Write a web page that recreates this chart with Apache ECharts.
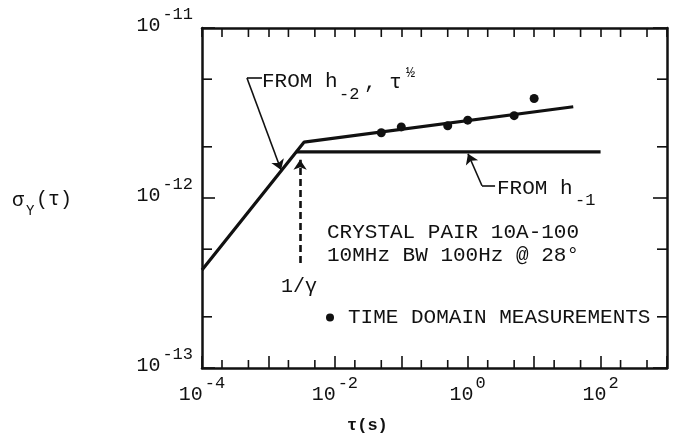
<!DOCTYPE html>
<html><head><meta charset="utf-8">
<script src="https://cdn.jsdelivr.net/npm/echarts@6/dist/echarts.min.js"></script>
<style>html,body{margin:0;padding:0;background:#fff}#c{width:677px;height:442px}</style>
</head><body><div id="c"></div>
<script>
// ---------------- data ----------------
const tauH2 = [1e-4, 3.43e-3, 38.8];            // h_-2 (tau^1/2) line then flicker+RW line
const sigmaH2 = [3.77e-13, 2.13e-12, 3.44e-12];
const tauH1 = [2.63e-3, 100];                   // flicker floor from h_-1
const sigmaH1 = [1.87e-12, 1.87e-12];
const tauMeas = [0.05, 0.1, 0.5, 1, 5, 10];     // time domain measurements
const sigmaMeas = [2.42e-12, 2.62e-12, 2.66e-12, 2.87e-12, 3.05e-12, 3.85e-12];
const tauInvGamma = 3e-3;                       // 1/gamma marker
const sigmaInvGamma = [4.15e-13, 1.68e-12];
const tauRange = [1e-4, 1e3];
const sigmaRange = [1e-13, 1e-11];
const minorTau = [2e-4,5e-4,2e-3,5e-3,2e-2,5e-2,0.2,0.5,2,5,20,50,200,500];
const minorSigma = [2e-13,5e-13,2e-12,5e-12];
const labelledExpX = [-4, -2, 0, 2];
const measName = 'TIME DOMAIN MEASUREMENTS';

// annotation anchors (data coordinates)
const leaderH2 = [[8.0e-4, 5.08e-12], [4.75e-4, 5.08e-12], [1.55e-3, 1.46e-12]];
const leaderH1 = [[2.58, 1.18e-12], [1.64, 1.18e-12], [1.01, 1.82e-12]];

// ---------------- style ----------------
const INK = '#111111';
const MONO = '"Liberation Mono", "DejaVu Sans Mono", monospace';
const supRich = {
  b: { fontFamily: MONO, fontSize: 20, lineHeight: 30, verticalAlign: 'bottom', color: INK },
  s: { fontFamily: MONO, fontSize: 17, lineHeight: 14, verticalAlign: 'top', color: INK, padding: [0, 0, 0, 2] }
};
function powLabel(v, onlyList) {
  const e = Math.round(Math.log10(v));
  if (onlyList && onlyList.indexOf(e) < 0) return '';
  return '{b|10}{s|' + (e < 0 ? '-' + (-e) : e) + '}';
}

const chart = echarts.init(document.getElementById('c'), null, { renderer: 'canvas' });

const axisLineStyle = { show: true, lineStyle: { color: INK, width: 2.5 } };

function minorX(params, api) {
  const x = api.coord([api.value(0), api.value(1)])[0];
  const cs = params.coordSys;
  const b = cs.y + cs.height;
  return { type: 'group', children: [
    { type: 'line', shape: { x1: x, y1: b, x2: x, y2: b - 8 }, style: { stroke: INK, lineWidth: 1.6 } },
    { type: 'line', shape: { x1: x, y1: cs.y, x2: x, y2: cs.y + 9 }, style: { stroke: INK, lineWidth: 1.6 } }
  ]};
}
function minorY(params, api) {
  const y = api.coord([api.value(0), api.value(1)])[1];
  const cs = params.coordSys;
  const r = cs.x + cs.width;
  return { type: 'group', children: [
    { type: 'line', shape: { x1: cs.x, y1: y, x2: cs.x + 10, y2: y }, style: { stroke: INK, lineWidth: 1.6 } },
    { type: 'line', shape: { x1: r, y1: y, x2: r - 10, y2: y }, style: { stroke: INK, lineWidth: 1.6 } }
  ]};
}

const leaderStyle = { color: INK, width: 1.6, type: 'solid' };
function leaderLines(pts) {
  return [
    [{ coord: pts[0], symbol: 'none', lineStyle: leaderStyle }, { coord: pts[1], symbol: 'none' }],
    [{ coord: pts[1], symbol: 'none', lineStyle: leaderStyle }, { coord: pts[2], symbol: 'arrow', symbolSize: 10 }]
  ];
}

const txt = (x, y, text, size, extra) => ({
  type: 'text', x: x, y: y, silent: true,
  style: Object.assign({ text: text, font: (size || 21) + 'px ' + MONO, fill: INK, verticalAlign: 'middle', align: 'left' }, extra || {})
});

chart.setOption({
  animation: false,
  backgroundColor: '#fff',
  grid: { left: 202, top: 28, width: 465, height: 340 },
  xAxis: [
    { type: 'log', logBase: 10, min: tauRange[0], max: tauRange[1], position: 'bottom',
      axisLine: axisLineStyle, splitLine: { show: false },
      axisTick: { inside: true, length: 12, lineStyle: { color: INK, width: 1.6 } },
      axisLabel: { margin: 7, formatter: v => powLabel(v, labelledExpX), rich: supRich } },
    { type: 'log', logBase: 10, min: tauRange[0], max: tauRange[1], position: 'top',
      axisLine: axisLineStyle, splitLine: { show: false },
      axisTick: { inside: true, length: 9, lineStyle: { color: INK, width: 1.6 } },
      axisLabel: { show: false } }
  ],
  yAxis: [
    { type: 'log', logBase: 10, min: sigmaRange[0], max: sigmaRange[1], position: 'left',
      axisLine: axisLineStyle, splitLine: { show: false },
      axisTick: { inside: true, length: 13, lineStyle: { color: INK, width: 1.6 } },
      axisLabel: { margin: 9, padding: [0, 0, 14, 0], formatter: v => powLabel(v), rich: supRich } },
    { type: 'log', logBase: 10, min: sigmaRange[0], max: sigmaRange[1], position: 'right',
      axisLine: axisLineStyle, splitLine: { show: false },
      axisTick: { inside: true, length: 14, lineStyle: { color: INK, width: 1.6 } },
      axisLabel: { show: false } }
  ],
  legend: {
    data: [measName], left: 326, top: 307, padding: 0, icon: 'circle',
    itemWidth: 8, itemHeight: 8, selectedMode: false,
    itemStyle: { opacity: 1, color: INK },
    textStyle: { fontFamily: MONO, fontSize: 21, color: INK, padding: [0, 0, 0, 9] }
  },
  series: [
    { type: 'custom', silent: true, renderItem: minorX, data: minorTau.map(v => [v, sigmaRange[0]]), z: 1 },
    { type: 'custom', silent: true, renderItem: minorY, data: minorSigma.map(v => [tauRange[0], v]), z: 1 },
    { name: 'FROM h-2', type: 'line', showSymbol: false, silent: true,
      data: tauH2.map((t, i) => [t, sigmaH2[i]]),
      lineStyle: { color: INK, width: 3.2 }, z: 3,
      markLine: { silent: true, animation: false, label: { show: false },
        data: leaderLines(leaderH2).concat(leaderLines(leaderH1)) } },
    { name: 'FROM h-1', type: 'line', showSymbol: false, silent: true,
      data: tauH1.map((t, i) => [t, sigmaH1[i]]),
      lineStyle: { color: INK, width: 3.2 }, z: 3,
      markLine: { silent: true, animation: false, label: { show: false },
        symbol: ['none', 'arrow'], symbolSize: 10,
        lineStyle: { color: INK, width: 2.6, type: [7, 4] },
        data: [[{ coord: [tauInvGamma, sigmaInvGamma[0]] }, { coord: [tauInvGamma, sigmaInvGamma[1]] }]] } },
    { name: measName, type: 'scatter', symbol: 'circle', symbolSize: 9,
      itemStyle: { color: INK, opacity: 1 }, data: tauMeas.map((t, i) => [t, sigmaMeas[i]]), z: 5 }
  ],
  graphic: [
    txt(262, 81, 'FROM h'),
    txt(339, 94, '-2', 17),
    txt(364, 82, ', τ'),
    txt(406, 73, '½', 15),
    txt(497, 188, 'FROM h'),
    txt(575, 200, '-1', 17),
    txt(327, 232, 'CRYSTAL PAIR 10A-100'),
    txt(327, 255, '10MHz BW 100Hz @ 28°'),
    txt(281, 287, '1/γ', 20),
    txt(12, 201, 'σ', 20),
    txt(26, 211, 'Y', 14),
    txt(36, 200, '(τ)', 20),
    txt(347, 426, 'τ(s)', 17, { font: 'bold 17px ' + MONO })
  ]
});
</script></body></html>
